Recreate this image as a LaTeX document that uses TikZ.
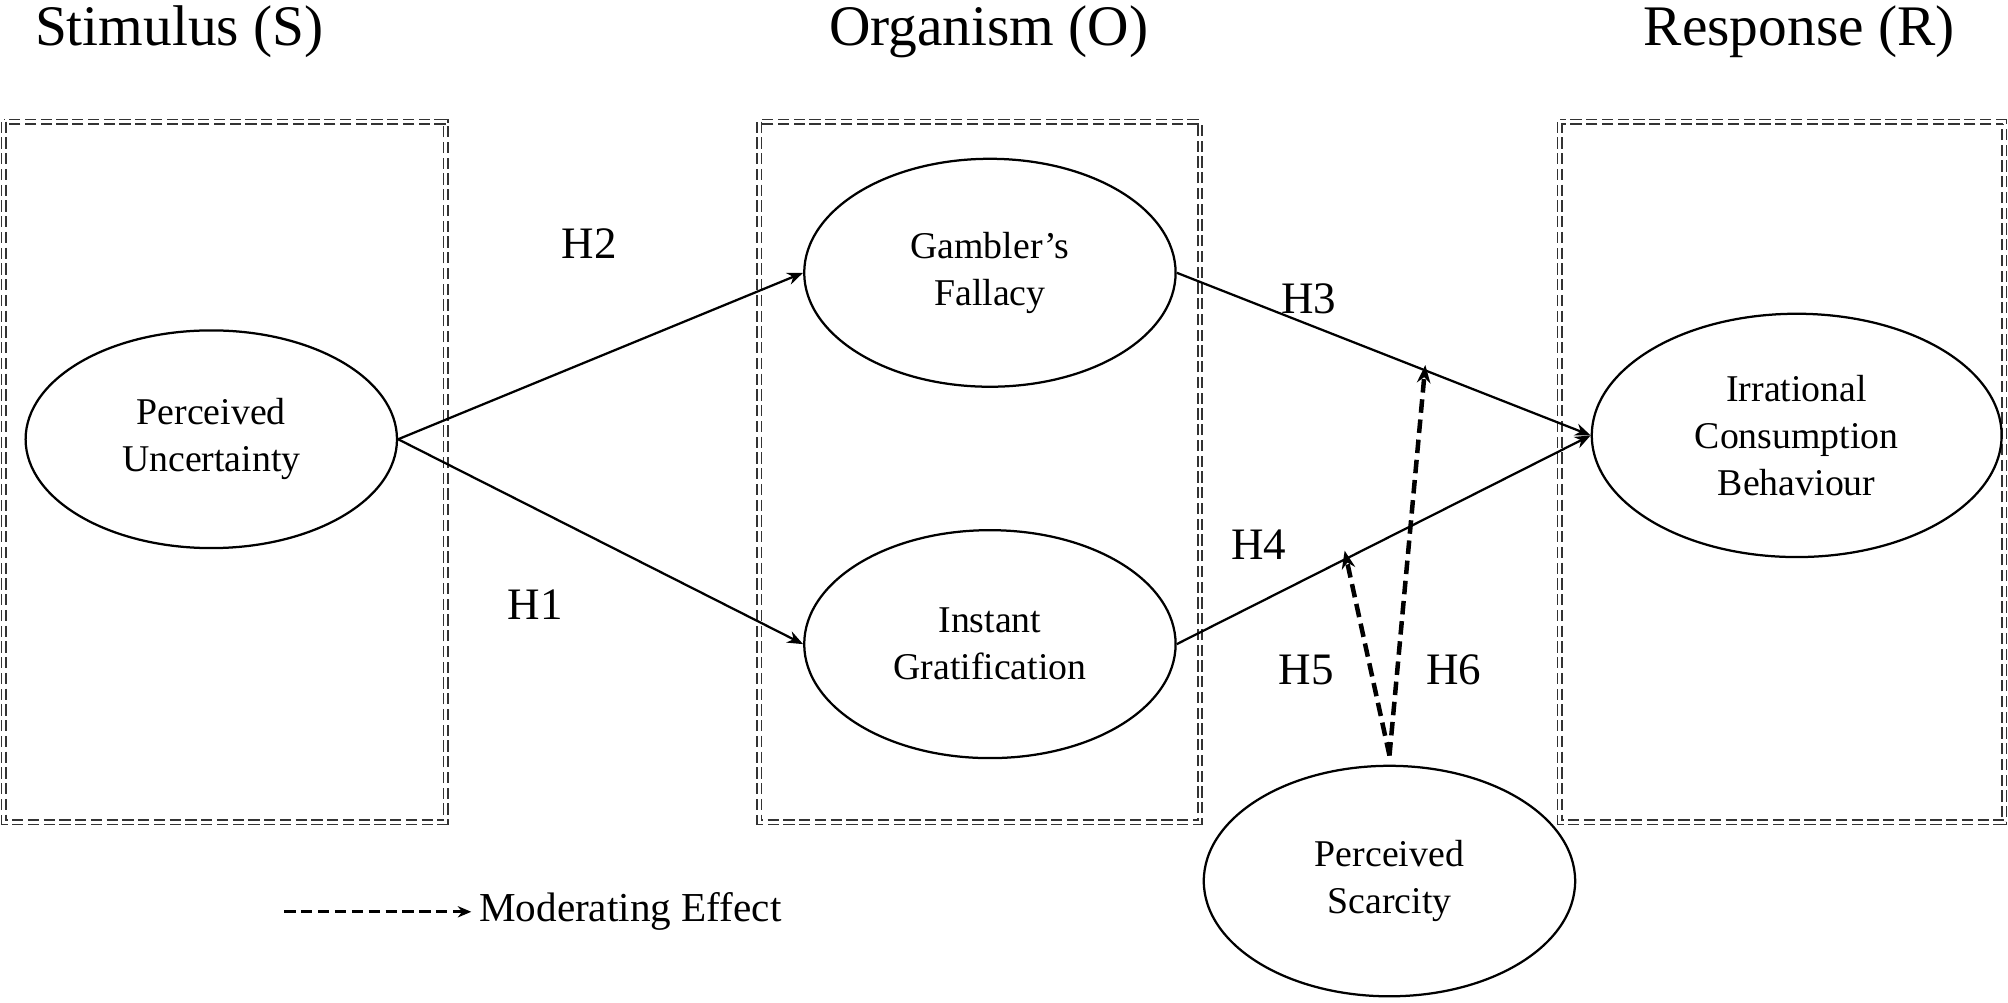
\documentclass[tikz,border=0pt]{standalone}
\usepackage{fontspec}
\setmainfont{Liberation Serif}
\usetikzlibrary{shapes.geometric,arrows.meta}
\begin{document}
\begin{tikzpicture}[x=0.02cm,y=-0.02cm,
 box/.style={draw=black!80,double,double distance=1.2pt,line width=0.7pt,dash pattern=on 5pt off 2pt},
 ell/.style={draw,ellipse,line width=1pt,align=center,font=\fontsize{16.8}{21}\selectfont,inner sep=0pt},
 arr/.style={line width=1pt,-{Stealth[length=7pt,width=5.5pt]}},
 mod/.style={line width=2pt,dash pattern=on 6pt off 3pt,-{Stealth[length=8pt,width=6pt]}},
 lab/.style={font=\fontsize{20}{24}\selectfont},
 ttl/.style={font=\fontsize{25.5}{30}\selectfont}]
\useasboundingbox (0,0) rectangle (1568,783);
\draw[box] (3,95) rectangle (348,642);
\draw[box] (593,95) rectangle (937,642);
\draw[box] (1218,95) rectangle (1565,642);
\node[ttl] (tS) at (140,25) {Stimulus (S)};
\node[ttl] (tO) at (772,25) {Organism (O)};
\node[ttl] (tR) at (1405,25) {Response (R)};
\node[ell,minimum width=290*0.02cm,minimum height=170*0.02cm] (pu) at (165,343) {Perceived\\Uncertainty};
\node[ell,minimum width=290*0.02cm,minimum height=178*0.02cm] (gf) at (773,213) {Gambler’s\\Fallacy};
\node[ell,minimum width=290*0.02cm,minimum height=178*0.02cm] (ig) at (773,503) {Instant\\Gratification};
\node[ell,minimum width=320*0.02cm,minimum height=190*0.02cm] (icb) at (1403,340) {Irrational\\Consumption\\Behaviour};
\node[ell,minimum width=290*0.02cm,minimum height=180*0.02cm] (ps) at (1085,688) {Perceived\\Scarcity};
\coordinate (m1) at (1113,285);
\coordinate (m2) at (1050,430);
\coordinate (psT) at (1085,590);
\draw[arr] (pu.east) -- (gf.west);
\draw[arr] (pu.east) -- (ig.west);
\draw[arr] (gf.east) -- (icb.west);
\draw[arr] (ig.east) -- (icb.west);
\draw[mod] (psT) -- (m1);
\draw[mod] (psT) -- (m2);
\node[lab] (h2) at (460,190) {H2};
\node[lab] (h1) at (418,472) {H1};
\node[lab] (h3) at (1022,233) {H3};
\node[lab] (h4) at (983,425) {H4};
\node[lab] (h5) at (1020,523) {H5};
\node[lab] (h6) at (1135,523) {H6};
\coordinate (lg1) at (222,712);
\node[lab,anchor=west,font=\fontsize{18.3}{22}\selectfont] (lgt) at (368,712) {Moderating Effect};
\draw[line width=1.2pt,dash pattern=on 5pt off 2.5pt,-{Stealth[length=6pt,width=5pt]}] (lg1) -- (lgt.west);
\end{tikzpicture}
\end{document}
